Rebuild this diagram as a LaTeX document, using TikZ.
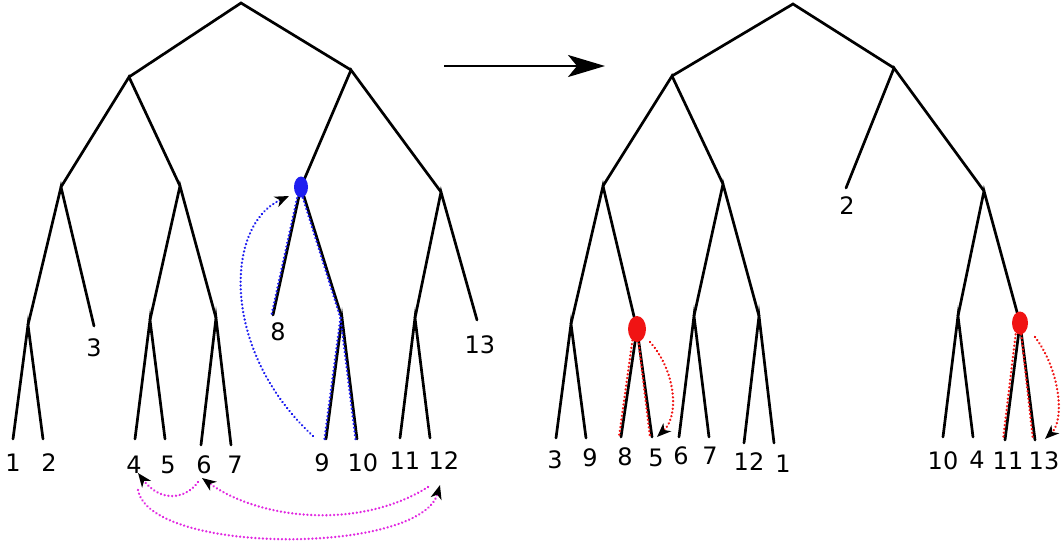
\documentclass[tikz,border=0pt]{standalone}
\usepackage{fontspec}
\setmainfont{DejaVu Sans}
\usetikzlibrary{arrows.meta,shapes.geometric}
\definecolor{mblue}{RGB}{30,30,240}
\definecolor{mred}{RGB}{240,20,20}
\definecolor{mmag}{RGB}{225,40,225}
\begin{document}
\begin{tikzpicture}[x=1pt,y=-1pt,
  edge/.style={line width=2.7pt,line cap=round},
  lbl/.style={inner sep=0pt,font=\fontsize{24}{28}\selectfont},
  dots/.style={line width=2.6pt,line cap=round,dash pattern=on 0.01pt off 3.8pt},
  bdot/.style={dots,mblue},
  rdot/.style={dots,mred},
  mdot/.style={dots,mmag},
  tip/.style={-{Stealth[length=14pt,width=11pt,inset=4pt,black,line cap=butt]}},
]
\useasboundingbox (0,0) rectangle (1063,543);
% ---------- left tree ----------
\coordinate (r) at (241,3);
\coordinate (a) at (129,77);
\coordinate (b) at (351,70);
\coordinate (a1) at (61,187);
\coordinate (a2) at (180,186);
\coordinate (a11) at (28,325);
\coordinate (l3) at (94,326);
\coordinate (l1) at (13,439);
\coordinate (l2) at (43,439);
\coordinate (a21) at (150,320);
\coordinate (a22) at (216,318);
\coordinate (l4) at (135,439);
\coordinate (l5) at (165,439);
\coordinate (l6) at (201,445);
\coordinate (l7) at (231,445);
\coordinate (b1) at (301,187);
\coordinate (b2) at (441,192);
\coordinate (l8) at (273,315);
\coordinate (b12) at (342,318);
\coordinate (l9) at (326,439);
\coordinate (l10) at (357,439);
\coordinate (b21) at (415,318);
\coordinate (l13) at (477,320);
\coordinate (l11) at (400,438);
\coordinate (l12) at (430,438);
\draw[edge] (a) -- (r) -- (b);
\draw[edge] (a1) -- (a) -- (a2);
\draw[edge] (a11) -- (a1) -- (l3);
\draw[edge] (l1) -- (a11) -- (l2);
\draw[edge] (a21) -- (a2) -- (a22);
\draw[edge] (l4) -- (a21) -- (l5);
\draw[edge] (l6) -- (a22) -- (l7);
\draw[edge] (b1) -- (b) -- (b2);
\draw[edge] (l8) -- (b1) -- (b12);
\draw[edge] (l9) -- (b12) -- (l10);
\draw[edge] (b21) -- (b2) -- (l13);
\draw[edge] (l11) -- (b21) -- (l12);
% labels
\node[lbl] (t1) at (13,463) {1};
\node[lbl] (t2) at (49,463) {2};
\node[lbl] (t3) at (94,348) {3};
\node[lbl] (t4) at (134,465) {4};
\node[lbl] (t5) at (168,465) {5};
\node[lbl] (t6) at (204,465) {6};
\node[lbl] (t7) at (235,465) {7};
\node[lbl] (t8) at (278,332) {8};
\node[lbl] (t9) at (322,463) {9};
\node[lbl] (t10) at (363,463) {10};
\node[lbl] (t11) at (405,461) {11};
\node[lbl] (t12) at (444,461) {12};
\node[lbl] (t13) at (480,345) {13};
% blue marks
\draw[bdot] ([xshift=-1.5pt]b1) -- ([xshift=-1.5pt]l8);
\draw[bdot] ([xshift=-1.5pt]b1) -- ([xshift=-1.5pt]b12);
\draw[bdot] ([xshift=-1.5pt]b12) -- ([xshift=-1.5pt]l9);
\draw[bdot] ([xshift=-1.5pt]b12) -- ([xshift=-1.5pt]l10);
\node[fill=mblue,ellipse,inner sep=0pt,minimum width=14pt,minimum height=21pt] (bn) at (b1) {};
\coordinate (bs) at (313,436);
\coordinate (be) at (289,196);
\draw[bdot,tip] (bs) .. controls (220,350) and (225,225) .. (be);
% magenta moves
\coordinate (m1s) at (198,482);
\coordinate (m1e) at (138,473);
\coordinate (m2s) at (428,487);
\coordinate (m2e) at (202,478);
\coordinate (m3s) at (138,490);
\coordinate (m3e) at (440,485);
\draw[mdot,tip] (m1s) .. controls (185,500) and (160,502) .. (m1e);
\draw[mdot,tip] (m2s) .. controls (360,530) and (260,520) .. (m2e);
\draw[mdot,tip] (m3s) .. controls (150,555) and (420,555) .. (m3e);
% ---------- big arrow ----------
\coordinate (as) at (444,66);
\coordinate (ae) at (605,66);
\draw[line width=2.7pt,-{Stealth[length=37pt,width=22pt,inset=9pt]}] (as) -- (ae);
% ---------- right tree ----------
\coordinate (R) at (793,4);
\coordinate (C) at (672,76);
\coordinate (D) at (894,68);
\coordinate (C1) at (603,186);
\coordinate (C2) at (723,184);
\coordinate (C11) at (571,324);
\coordinate (C12) at (637,329);
\coordinate (L3) at (556,438);
\coordinate (L9) at (586,438);
\coordinate (L8) at (621,437);
\coordinate (L5) at (652,437);
\coordinate (C21) at (694,316);
\coordinate (C22) at (759,316);
\coordinate (L6) at (679,437);
\coordinate (L7) at (709,437);
\coordinate (L12) at (744,443);
\coordinate (L1) at (774,443);
\coordinate (L2) at (846,188);
\coordinate (D2) at (984,191);
\coordinate (D21) at (958,316);
\coordinate (D22) at (1020,323);
\coordinate (L10) at (943,437);
\coordinate (L4) at (973,437);
\coordinate (L11) at (1005,440);
\coordinate (L13) at (1035,440);
\draw[edge] (C) -- (R) -- (D);
\draw[edge] (C1) -- (C) -- (C2);
\draw[edge] (C11) -- (C1) -- (C12);
\draw[edge] (L3) -- (C11) -- (L9);
\draw[edge] (L8) -- (C12) -- (L5);
\draw[edge] (C21) -- (C2) -- (C22);
\draw[edge] (L6) -- (C21) -- (L7);
\draw[edge] (L12) -- (C22) -- (L1);
\draw[edge] (L2) -- (D) -- (D2);
\draw[edge] (D21) -- (D2) -- (D22);
\draw[edge] (L10) -- (D21) -- (L4);
\draw[edge] (L11) -- (D22) -- (L13);
\node[lbl] (T3) at (555,460) {3};
\node[lbl] (T9) at (590,458) {9};
\node[lbl] (T8) at (625,457) {8};
\node[lbl] (T5) at (656,458) {5};
\node[lbl] (T6) at (681,456) {6};
\node[lbl] (T7) at (710,456) {7};
\node[lbl] (T12) at (749,462) {12};
\node[lbl] (T1) at (783,464) {1};
\node[lbl] (T2) at (847,206) {2};
\node[lbl] (T10) at (943,461) {10};
\node[lbl] (T4) at (977,460) {4};
\node[lbl] (T11) at (1008,461) {11};
\node[lbl] (T13) at (1044,461) {13};
% red marks
\draw[rdot] ([xshift=-3pt]C12) -- ([xshift=-2pt]L8);
\draw[rdot] ([xshift=0pt]C12) -- ([xshift=-2pt]L5);
\draw[rdot] ([xshift=-3pt]D22) -- ([xshift=-2pt]L11);
\draw[rdot] ([xshift=0pt]D22) -- ([xshift=-2pt]L13);
\node[fill=mred,ellipse,inner sep=0pt,minimum width=18pt,minimum height=26pt] (rn1) at (C12) {};
\node[fill=mred,ellipse,inner sep=0pt,minimum width=16pt,minimum height=23pt] (rn2) at (D22) {};
\coordinate (r1s) at (650,342);
\coordinate (r1e) at (657,437);
\coordinate (r2s) at (1035,337);
\coordinate (r2e) at (1045,439);
\draw[rdot,tip] (r1s) .. controls (675,370) and (680,415) .. (r1e);
\draw[rdot,tip] (r2s) .. controls (1060,370) and (1065,420) .. (r2e);
\end{tikzpicture}
\end{document}
